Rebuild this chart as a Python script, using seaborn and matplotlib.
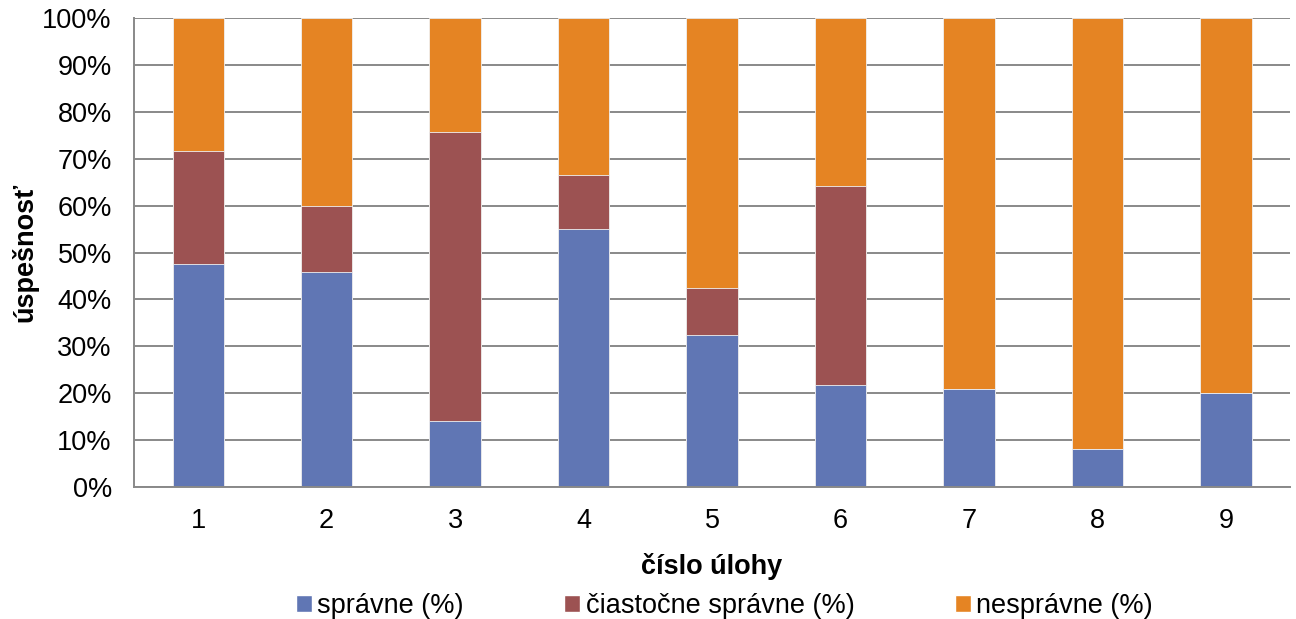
import numpy as np
import pandas as pd
import seaborn as sns
import matplotlib.pyplot as plt
from matplotlib.patches import Patch

# data (percent of pupils)
ulohy = ['1', '2', '3', '4', '5', '6', '7', '8', '9']
spravne = [47.5, 45.8, 14.1, 55.0, 32.4, 21.7, 20.9, 8.1, 20.0]
ciastocne = [24.1, 14.1, 61.6, 11.5, 10.0, 42.5, 0.0, 0.0, 0.0]
nespravne = [28.4, 40.1, 24.3, 33.5, 57.6, 35.8, 79.1, 91.9, 80.0]

labels = ['správne (%)', 'čiastočne správne (%)', 'nesprávne (%)']
colors = ['#6076B4', '#9C5252', '#E58423']

df = pd.DataFrame({'uloha': ulohy, 's': spravne, 'c': ciastocne, 'n': nespravne})
df['top_c'] = df['s'] + df['c']
df['top_n'] = df['top_c'] + df['n']

sns.set_style('white')
plt.rcParams['font.family'] = ['Liberation Sans', 'DejaVu Sans']
plt.rcParams['text.color'] = 'black'
plt.rcParams['axes.labelcolor'] = 'black'
fs = 19.5

fig = plt.figure(figsize=(12.96, 6.19), dpi=100)
ax = fig.add_axes([0.1034, 0.2132, 0.892, 0.7577])

# stacked bars: draw cumulative heights back to front
for col, c in [('top_n', colors[2]), ('top_c', colors[1]), ('s', colors[0])]:
    sns.barplot(data=df, x='uloha', y=col, color=c, width=0.4, saturation=1,
                linewidth=0.6, edgecolor='#f0f0f0', ax=ax, zorder=2)

ax.set_ylim(0, 100)
ax.set_xlim(-0.5, len(ulohy) - 0.5)
ax.set_yticks(np.arange(0, 101, 10))
ax.set_yticklabels([f'{v}%' for v in range(0, 101, 10)])
ax.yaxis.grid(True, color='#898989', linewidth=1.4, zorder=0)
ax.set_axisbelow(True)

for side in ['top', 'right']:
    ax.spines[side].set_visible(False)
for side in ['left', 'bottom']:
    ax.spines[side].set_color('#898989')
    ax.spines[side].set_linewidth(1.4)

ax.tick_params(axis='both', length=0, labelsize=fs, colors='black')
ax.tick_params(axis='y', pad=16)
ax.tick_params(axis='x', pad=15)

ax.set_xlabel('číslo úlohy', fontsize=fs, fontweight='bold', labelpad=14, color='black')
ax.set_ylabel('úspešnosť', fontsize=fs, fontweight='bold', labelpad=3, color='black')

handles = [Patch(facecolor=c, label=l) for c, l in zip(colors, labels)]
fig.legend(handles=handles, loc='lower center', bbox_to_anchor=(0.559, -0.04),
           ncol=3, frameon=False, fontsize=fs, handlelength=0.6,
           handleheight=0.6, handletextpad=0.2, columnspacing=3.7,
           labelcolor='black')

fig.savefig('out.png', dpi=100)
